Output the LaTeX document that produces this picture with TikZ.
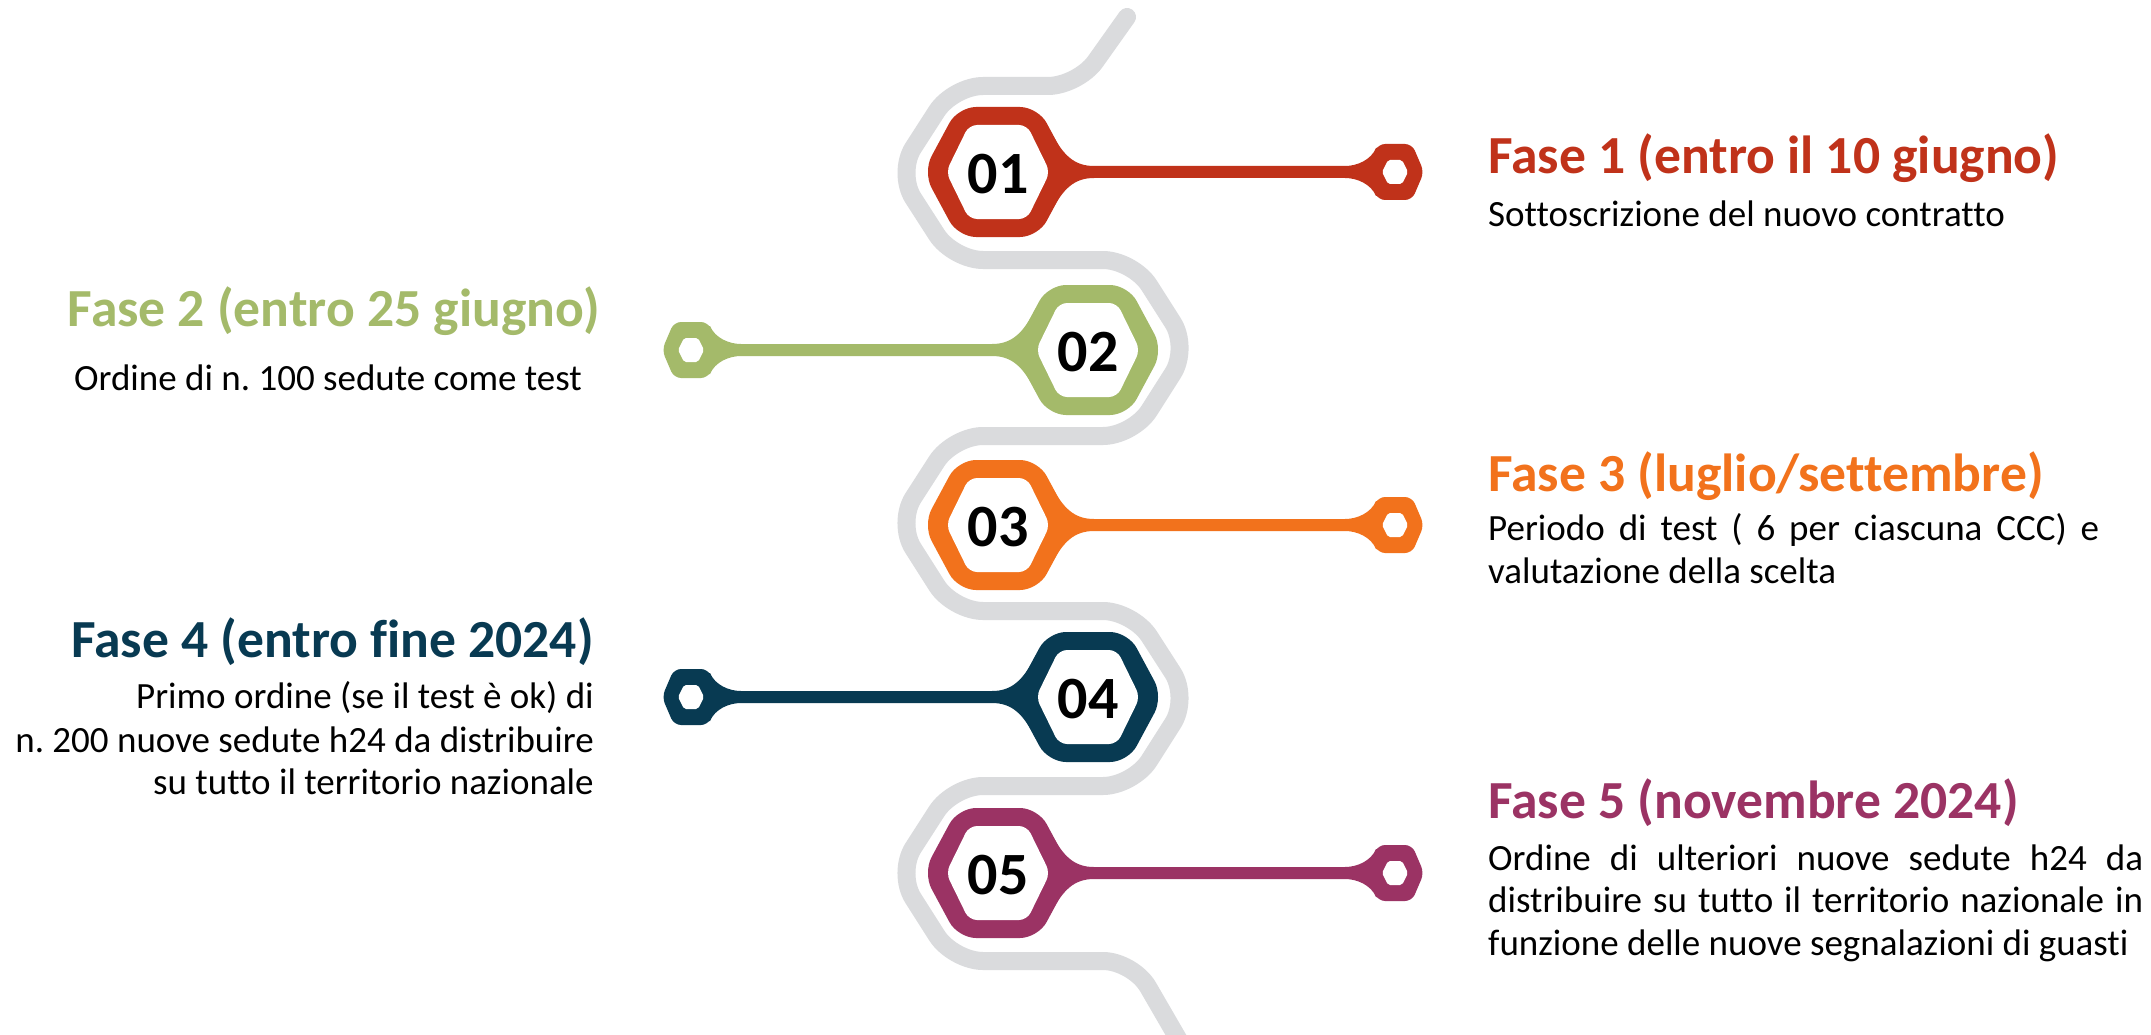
\documentclass[tikz,border=0pt]{standalone}
\usepackage{fontspec}
\setmainfont{Carlito}[Ligatures=NoCommon]
\frenchspacing
\definecolor{cRed}{RGB}{192,50,26}
\definecolor{cGreen}{RGB}{164,186,106}
\definecolor{cOrange}{RGB}{242,114,28}
\definecolor{cTeal}{RGB}{8,58,82}
\definecolor{cPurple}{RGB}{155,51,100}
\definecolor{cSnake}{RGB}{218,219,221}
\tikzset{
  greypath/.style={draw=cSnake, line width=18pt, rounded corners=30pt, line cap=round},
  titletxt/.style={font=\fontsize{53.6}{64}\selectfont\bfseries, inner sep=0pt},
  bodytxt/.style={font=\fontsize{37}{44}\selectfont, inner sep=0pt},
  numtxt/.style={font=\fontsize{60}{70}\selectfont\bfseries, inner sep=0pt},
}
\newcommand\phaseshape[4]{%
  \begin{scope}[shift={(#2,#3)}, xscale=#4]
    \fill[#1] (20,-40) -- (53,-40) .. controls (65,-17) and (76,-6) .. (96,-6)
      -- (347,-6) .. controls (359,-6) and (373,-12) .. (378,-24) -- (397,-24)
      -- (397,24) -- (378,24) .. controls (373,12) and (359,6) .. (347,6)
      -- (96,6) .. controls (76,6) and (65,17) .. (53,40) -- (20,40) -- cycle;
    \fill[#1, rounded corners=18pt] (0,-65) -- (40,-65) -- (75,0) -- (40,65)
      -- (-40,65) -- (-75,0) -- (-40,-65) -- cycle;
    \fill[white, rounded corners=8pt] (0,-47) -- (29,-47) -- (52,0) -- (29,47)
      -- (-29,47) -- (-52,0) -- (-29,-47) -- cycle;
    \fill[#1, rounded corners=7pt] (397,-28) -- (414,-28) -- (426,0) -- (414,28)
      -- (380,28) -- (368,0) -- (380,-28) -- cycle;
    \fill[white, rounded corners=2pt] (397,-12) -- (404,-12) -- (410,0) -- (404,12)
      -- (390,12) -- (384,0) -- (390,-12) -- cycle;
  \end{scope}}
\begin{document}
\begin{tikzpicture}[x=1pt,y=-1pt]
\useasboundingbox (0,0) rectangle (2151,1035);
\clip (0,0) rectangle (2151,1035);
\fill[white] (0,0) rectangle (2151,1035);
% grey snake
\draw[greypath] (1127,17) -- (1078,86) -- (953,86) -- (897,173) -- (953,260)
  -- (1133,260) -- (1189,348) -- (1133,436) -- (953,436) -- (897,523)
  -- (953,611) -- (1133,611) -- (1189,698) -- (1133,786) -- (953,786)
  -- (897,873) -- (953,961) -- (1133,961) -- (1195,1068);
% phases
\phaseshape{cRed}{998}{172}{1}
\phaseshape{cGreen}{1088}{350}{-1}
\phaseshape{cOrange}{998}{525}{1}
\phaseshape{cTeal}{1088}{697}{-1}
\phaseshape{cPurple}{998}{873}{1}
\node[numtxt] (n1) at (998,174) {01};
\node[numtxt] (n2) at (1088,352) {02};
\node[numtxt] (n3) at (998,527) {03};
\node[numtxt] (n4) at (1088,699) {04};
\node[numtxt] (n5) at (998,875) {05};
% texts
\node[titletxt, text=cRed, anchor=base west] (t1) at (1488,174) {Fase 1 (entro il 10 giugno)};
\node[bodytxt, anchor=base west] (b1) at (1488,226) {Sottoscrizione del nuovo contratto};
\node[titletxt, text=cGreen, anchor=base east] (t2) at (600,326) {Fase 2 (entro 25 giugno)};
\node[bodytxt, anchor=base east] (b2) at (582,390) {Ordine di n. 100 sedute come test};
\node[titletxt, text=cOrange, anchor=base west] (t3) at (1488,491) {Fase 3 (luglio/settembre)};
\node[bodytxt, anchor=base west] (b3a) at (1488,540) {\makebox[611pt][s]{Periodo di test ( 6 per ciascuna CCC) e}};
\node[bodytxt, anchor=base west] (b3b) at (1488,583) {valutazione della scelta};
\node[titletxt, text=cTeal, anchor=base east] (t4) at (594,657) {Fase 4 (entro fine 2024)};
\node[bodytxt, anchor=base east] (b4a) at (594,708) {Primo ordine (se il test è ok) di};
\node[bodytxt, anchor=base east] (b4b) at (594,752) {n. 200 nuove sedute h24 da distribuire};
\node[bodytxt, anchor=base east] (b4c) at (594,794) {su tutto il territorio nazionale};
\node[titletxt, text=cPurple, anchor=base west] (t5) at (1488,818) {Fase 5 (novembre 2024)};
\node[bodytxt, anchor=base west] (b5a) at (1488,870) {\makebox[655pt][s]{Ordine di ulteriori nuove sedute h24 da}};
\node[bodytxt, anchor=base west] (b5b) at (1488,912) {\makebox[655pt][s]{distribuire su tutto il territorio nazionale in}};
\node[bodytxt, anchor=base west] (b5c) at (1488,955) {funzione delle nuove segnalazioni di guasti};
\end{tikzpicture}
\end{document}
